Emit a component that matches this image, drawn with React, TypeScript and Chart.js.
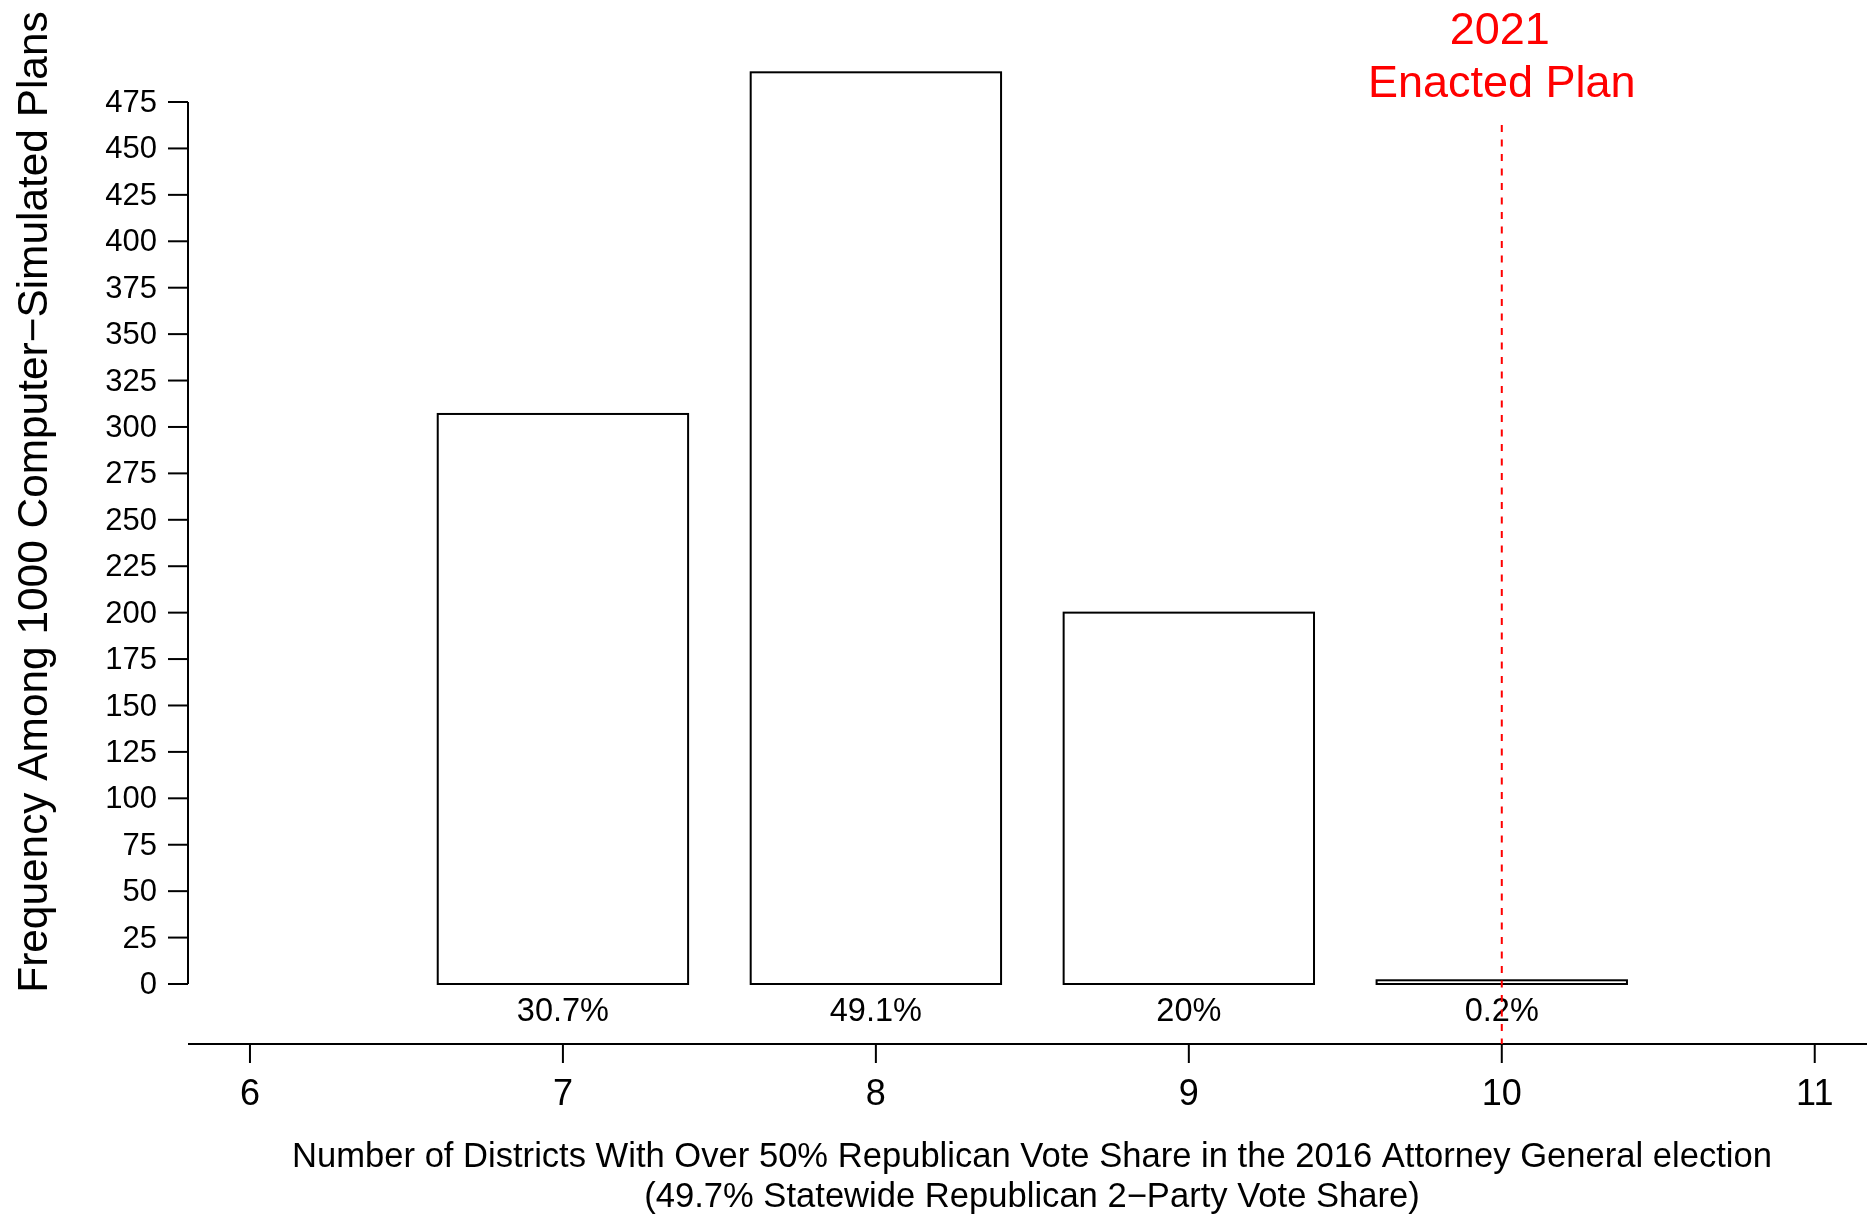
import React, { useEffect, useRef } from "react";
import { Chart, registerables } from "chart.js";

Chart.register(...registerables);

// ---- data ----
const districts = [7, 8, 9, 10];
const frequencies = [307, 491, 200, 2];
const percentLabels = ["30.7%", "49.1%", "20%", "0.2%"];
const yTicks = [0, 25, 50, 75, 100, 125, 150, 175, 200, 225, 250, 275, 300, 325, 350, 375, 400, 425, 450, 475];
const xTicks = [6, 7, 8, 9, 10, 11];
const enactedValue = 10;
const enactedLabel = ["2021", "Enacted Plan"];
const xTitleLines = [
  "Number of Districts With Over 50% Republican Vote Share in the 2016 Attorney General election",
  "(49.7% Statewide Republican 2\u2212Party Vote Share)",
];
const yTitle = "Frequency Among 1000 Computer\u2212Simulated Plans";

const FONT = "'Liberation Sans', Arial, Helvetica, sans-serif";

// outline bars with a centred stroke (like base graphics rect())
const barOutlinePlugin = {
  id: "barOutline",
  afterDatasetsDraw(chart: any) {
    const ctx = chart.ctx as CanvasRenderingContext2D;
    const meta = chart.getDatasetMeta(0);
    ctx.save();
    ctx.strokeStyle = "#000";
    ctx.lineWidth = 2;
    for (const el of meta.data) {
      const { x, y, base, width } = el.getProps(["x", "y", "base", "width"], true);
      ctx.strokeRect(x - width / 2, Math.min(y, base), width, Math.abs(base - y));
    }
    ctx.restore();
  },
};

const axesPlugin = {
  id: "rAxes",
  afterDraw(chart: any) {
    const ctx = chart.ctx as CanvasRenderingContext2D;
    const xs = chart.scales.x;
    const ys = chart.scales.y;
    const area = chart.chartArea;
    ctx.save();

    // Y axis
    const yAxisX = area.left;
    ctx.strokeStyle = "#000";
    ctx.lineWidth = 2;
    ctx.beginPath();
    ctx.moveTo(yAxisX, ys.getPixelForValue(yTicks[0]));
    ctx.lineTo(yAxisX, ys.getPixelForValue(yTicks[yTicks.length - 1]));
    ctx.stroke();
    ctx.fillStyle = "#000";
    ctx.font = `31px ${FONT}`;
    ctx.textAlign = "right";
    ctx.textBaseline = "middle";
    for (const t of yTicks) {
      const py = ys.getPixelForValue(t);
      ctx.beginPath();
      ctx.moveTo(yAxisX - 20, py);
      ctx.lineTo(yAxisX, py);
      ctx.stroke();
      ctx.fillText(String(t), yAxisX - 31, py + 1.5);
    }

    // X axis (offset below)
    const xAxisY = 1044;
    ctx.beginPath();
    ctx.moveTo(area.left, xAxisY);
    ctx.lineTo(chart.width, xAxisY);
    ctx.stroke();
    ctx.font = `36px ${FONT}`;
    ctx.textAlign = "center";
    ctx.textBaseline = "alphabetic";
    for (const t of xTicks) {
      const px = xs.getPixelForValue(t);
      ctx.beginPath();
      ctx.moveTo(px, xAxisY);
      ctx.lineTo(px, xAxisY + 19);
      ctx.stroke();
      ctx.fillText(String(t), px, 1105);
    }

    // percent labels under bars
    ctx.font = `32.5px ${FONT}`;
    districts.forEach((d, i) => {
      ctx.fillText(percentLabels[i], xs.getPixelForValue(d), 1021);
    });

    // enacted plan line
    const ex = xs.getPixelForValue(enactedValue);
    ctx.strokeStyle = "#FF0000";
    ctx.lineWidth = 2;
    ctx.setLineDash([7, 7.5]);
    ctx.beginPath();
    ctx.moveTo(ex, 125);
    ctx.lineTo(ex, xAxisY);
    ctx.stroke();
    ctx.setLineDash([]);
    ctx.fillStyle = "#FF0000";
    ctx.font = `45px ${FONT}`;
    ctx.fillText(enactedLabel[0], ex - 2, 44);
    ctx.fillText(enactedLabel[1], ex, 97);

    // X title
    ctx.fillStyle = "#000";
    ctx.font = `34.6px ${FONT}`;
    const cx = 1032;
    ctx.fillText(xTitleLines[0], cx, 1167);
    ctx.fillText(xTitleLines[1], cx, 1207);

    // Y title
    ctx.font = `42.4px ${FONT}`;
    ctx.translate(47, 502);
    ctx.rotate(-Math.PI / 2);
    ctx.fillText(yTitle, 0, 0);

    ctx.restore();
  },
};

export default function App() {
  const ref = useRef<HTMLCanvasElement | null>(null);

  useEffect(() => {
    if (!ref.current) return;
    const chart = new Chart(ref.current, {
      type: "bar",
      data: {
        datasets: [
          {
            data: districts.map((d, i) => ({ x: d, y: frequencies[i] })),
            backgroundColor: "#FFFFFF",
            borderColor: "#000000",
            borderWidth: 0,
            barPercentage: 0.8,
            categoryPercentage: 1,
          } as any,
        ],
      },
      options: {
        responsive: false,
        animation: false,
        events: [],
        layout: { padding: { left: 188, right: 0, top: 55.6, bottom: 231 } },
        scales: {
          x: {
            type: "linear",
            min: 5.802,
            max: 11.167,
            offset: false,
            display: false,
            afterBuildTicks: (scale: any) => {
              scale.ticks = xTicks.map((v) => ({ value: v }));
            },
          },
          y: { type: "linear", min: 0, max: 500, display: false },
        },
        plugins: {
          legend: { display: false },
          tooltip: { enabled: false },
        },
      },
      plugins: [barOutlinePlugin, axesPlugin],
    });
    return () => chart.destroy();
  }, []);

  return (
    <div style={{ position: "absolute", left: 0, top: 0, width: 1867, height: 1215, background: "#fff" }}>
      <canvas ref={ref} width={1867} height={1215} style={{ display: "block" }} />
    </div>
  );
}
